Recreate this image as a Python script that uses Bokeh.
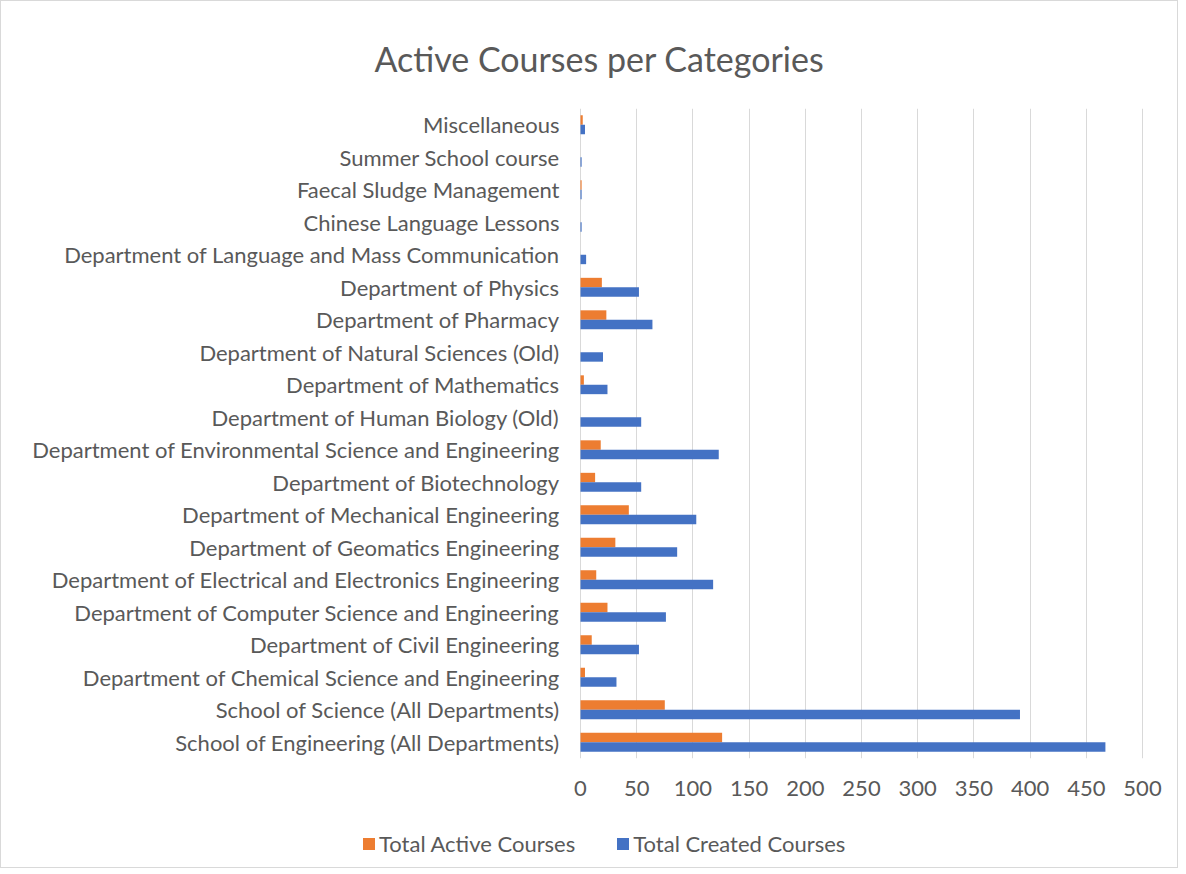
from bokeh.plotting import figure
from bokeh.layouts import column
from bokeh.models import FactorRange, Legend, LegendItem, ColumnDataSource, Range1d, FixedTicker
from bokeh.core.properties import value
from bokeh.transform import dodge
from bokeh.embed import file_html
from bokeh.resources import INLINE

categories = [
    "School of Engineering (All Departments)",
    "School of Science (All Departments)",
    "Department of Chemical Science and Engineering",
    "Department of Civil Engineering",
    "Department of Computer Science and Engineering",
    "Department of Electrical and Electronics Engineering",
    "Department of Geomatics Engineering",
    "Department of Mechanical Engineering",
    "Department of Biotechnology",
    "Department of Environmental Science and Engineering",
    "Department of Human Biology (Old)",
    "Department of Mathematics",
    "Department of Natural Sciences (Old)",
    "Department of Pharmacy",
    "Department of Physics",
    "Department of Language and Mass Communication",
    "Chinese Language Lessons",
    "Faecal Sludge Management",
    "Summer School course",
    "Miscellaneous",
]
total_active = [126, 75, 4, 10, 24, 14, 31, 43, 13, 18, 0, 3, 0, 23, 19, 0, 0, 1, 0, 2]
total_created = [467, 391, 32, 52, 76, 118, 86, 103, 54, 123, 54, 24, 20, 64, 52, 5, 1, 1, 1, 4]
series_names = ["Total Active Courses", "Total Created Courses"]
x_ticks = [0, 50, 100, 150, 200, 250, 300, 350, 400, 450, 500]

src = ColumnDataSource(dict(cat=categories, active=total_active, created=total_created,
                            zero=[0] * len(categories)))

FONT = "Lato"
GREY = "#595959"
ORANGE = "#ED7D31"
BLUE = "#4472C4"

# layout constants (pixels)
TOTAL_W = 1176
LEFT_PX = 579          # where value 0 sits
PLOT_PX = 562          # width used by 0..500
px_per_unit = PLOT_PX / 500.0
x_start = -LEFT_PX / px_per_unit
x_end = (TOTAL_W - LEFT_PX) / px_per_unit

p = figure(frame_width=TOTAL_W, frame_height=650, y_range=FactorRange(*categories),
           x_range=Range1d(x_start, x_end),
           output_backend="svg", toolbar_location=None,
           min_border_left=0, min_border_right=0, min_border_top=107, min_border_bottom=49)
p.y_range.range_padding = 0

p.hbar(y=dodge("cat", 0.145, range=p.y_range), right="active", left=0, height=0.29,
       source=src, fill_color=ORANGE, line_color=None)
p.hbar(y=dodge("cat", -0.145, range=p.y_range), right="created", left=0, height=0.29,
       source=src, fill_color=BLUE, line_color=None)

# category labels (drawn left of the zero line)
p.text(x="zero", y="cat", text="cat", source=src, text_align="right", text_baseline="middle",
       x_offset=-21, text_font=value(FONT), text_font_size="22px", text_color=GREY)

p.title.text = "Active Courses per Categories"
p.title.align = "left"
p.title.offset = 373
p.title.text_font = FONT
p.title.text_font_style = "normal"
p.title.text_font_size = "34px"
p.title.text_color = GREY
p.title.standoff = 60

p.outline_line_color = None
p.ygrid.grid_line_color = None
p.yaxis.visible = False
p.xgrid.grid_line_color = "#d9d9d9"
p.xgrid.grid_line_width = 1

p.xaxis.ticker = FixedTicker(ticks=x_ticks)
p.xgrid.ticker = FixedTicker(ticks=x_ticks)
p.xaxis.axis_line_color = None
p.xaxis.major_tick_line_color = None
p.xaxis.major_tick_out = 0
p.xaxis.major_tick_in = 0
p.xaxis.minor_tick_line_color = None
p.xaxis.major_label_text_font = FONT
p.xaxis.major_label_text_font_size = "22px"
p.xaxis.major_label_text_color = GREY
p.xaxis.major_label_standoff = 22

# legend strip below the chart (legend swatches come from hidden copies of the series)
lg = figure(frame_width=TOTAL_W, frame_height=60, x_range=Range1d(0, 1), y_range=Range1d(0, 1),
            output_backend="svg", toolbar_location=None, x_axis_type=None, y_axis_type=None,
            min_border=0)
lg.outline_line_color = None
lg.grid.grid_line_color = None
d1 = lg.patch(x="zero", y="active", source=src, fill_color=ORANGE, line_color=None, visible=False)
d2 = lg.patch(x="zero", y="created", source=src, fill_color=BLUE, line_color=None, visible=False)
legend = Legend(items=[LegendItem(label=series_names[0], renderers=[d1]),
                       LegendItem(label=series_names[1], renderers=[d2])],
                orientation="horizontal", location=(360, 10),
                label_text_font=FONT, label_text_font_size="22px", label_text_color=GREY,
                glyph_width=15, glyph_height=15, spacing=40, border_line_color=None,
                background_fill_alpha=0, inactive_fill_alpha=0,
                margin=0, padding=4, label_standoff=3)
lg.add_layout(legend, "center")

layout = column(p, lg, spacing=0)
layout.styles = {"border": "1px solid #d9d9d9"}

open("out.html", "w").write(file_html(layout, INLINE))
